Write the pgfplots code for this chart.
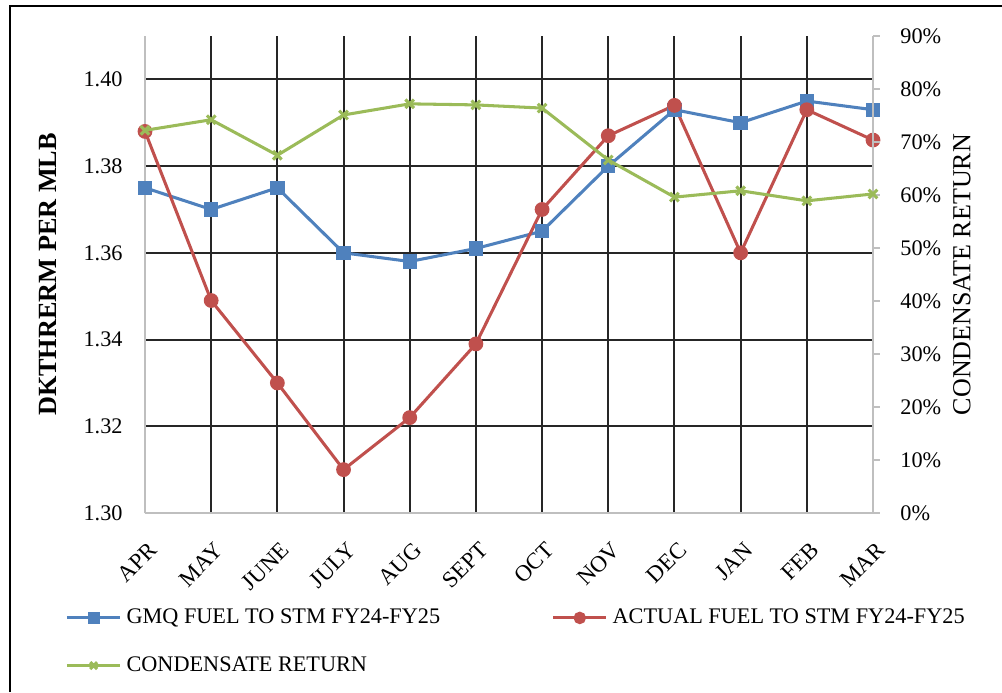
\documentclass[border=0pt]{standalone}
\usepackage{fontspec}
\setmainfont{Liberation Serif}
\usepackage{pgfplots}
\pgfplotsset{compat=1.18}
\usepackage{pgfplotstable}

\definecolor{gmq}{HTML}{4F81BD}
\definecolor{act}{HTML}{C0504D}
\definecolor{cond}{HTML}{9BBB59}
\definecolor{axgray}{HTML}{BFBFBF}
\definecolor{gridk}{HTML}{262626}

% month index, GMQ, actual (DKTHERM/MLB), condensate return (%)
\pgfplotstableread{
m gmq act cond
0 1.375 1.388 72.2
1 1.370 1.349 74.2
2 1.375 1.330 67.5
3 1.360 1.310 75.1
4 1.358 1.322 77.2
5 1.361 1.339 77.0
6 1.365 1.370 76.4
7 1.380 1.387 66.6
8 1.393 1.394 59.6
9 1.390 1.360 60.8
10 1.395 1.393 58.9
11 1.393 1.386 60.2
}\data

\pgfplotsset{
  /pgf/number format/assume math mode=true,
  every axis/.append style={
    at={(0,0)}, anchor=south west,
    scale only axis, width=109.2mm, height=71.55mm,
    xmin=0, xmax=11,
    axis line style={axgray, line width=0.3mm},
    tick label style={font=\fontsize{9.5}{11}\selectfont},
  },
}

\begin{document}
\begin{tikzpicture}
\useasboundingbox (-21.75mm,-26.85mm) rectangle (128.55mm,76.95mm);
\draw[line width=0.3mm] (-20.25mm,-26.85mm) -- (-20.25mm,76.05mm) -- (128.55mm,76.05mm);

\begin{axis}[
    ymin=1.30, ymax=1.41,
    xtick={0,...,11},
    xticklabels={APR,MAY,JUNE,JULY,AUG,SEPT,OCT,NOV,DEC,JAN,FEB,MAR},
    ytick={1.30,1.32,1.34,1.36,1.38,1.40},
    yticklabel style={/pgf/number format/fixed, /pgf/number format/fixed zerofill,
      /pgf/number format/precision=2},
    axis x line*=bottom, axis y line*=left,
    tick style={draw=none},
    grid=major, grid style={gridk, line width=0.3mm},
    xticklabel style={xshift=0.4mm, yshift=-4.1mm, rotate=45, anchor=north east, inner sep=0pt,
      font=\fontsize{9.8}{11}\selectfont},
    yticklabel style={anchor=east, inner sep=0pt, xshift=-3.3mm},
    every axis y label/.style={at={(axis description cs:0,0.5)}, xshift=-14.55mm, rotate=90, anchor=center},
    ylabel={\fontsize{11.2}{13}\selectfont\bfseries DKTHRERM PER MLB},
    legend columns=2,
    legend cell align=left,
    legend style={draw=none, fill=none, inner sep=0pt,
      font=\fontsize{9.5}{11}\selectfont,
      at={(axis description cs:-0.1099,-0.19)}, anchor=north west,
      row sep=3mm,
      /tikz/every even column/.append style={column sep=16mm}},
    legend image code/.code={
      \draw[mark repeat=2, mark phase=2, mark options={scale=0.8}]
        plot coordinates {(0mm,0mm) (4mm,0mm) (8mm,0mm)};},
]
\addplot[gmq, line width=1.3pt, mark=square*, mark size=2.4pt] table[x=m, y=gmq] {\data};
\addlegendentry{GMQ FUEL TO STM FY24-FY25}
\addplot[act, line width=1.3pt, mark=*, mark size=2.5pt] table[x=m, y=act] {\data};
\addlegendentry{ACTUAL FUEL TO STM FY24-FY25}
\addlegendimage{cond, line width=1.3pt, mark=x, mark size=2.6pt}
\addlegendentry{CONDENSATE RETURN}
\end{axis}

\begin{axis}[
    ymin=0, ymax=90,
    axis x line=none, axis y line*=right,
    ytick={0,10,...,90},
    yticklabel={\pgfmathprintnumber{\tick}\%},
    tick align=outside, major tick length=1.05mm,
    tick style={axgray, line width=0.3mm},
    yticklabel style={anchor=west, inner sep=0pt, xshift=3mm},
    every axis y label/.style={at={(axis description cs:1,0.5)}, xshift=13.35mm, rotate=90, anchor=center},
    ylabel={\fontsize{11.1}{13}\selectfont CONDENSATE RETURN},
]
\addplot[cond, line width=1.3pt, mark=x, mark size=2.6pt] table[x=m, y=cond] {\data};
\end{axis}
\end{tikzpicture}
\end{document}
